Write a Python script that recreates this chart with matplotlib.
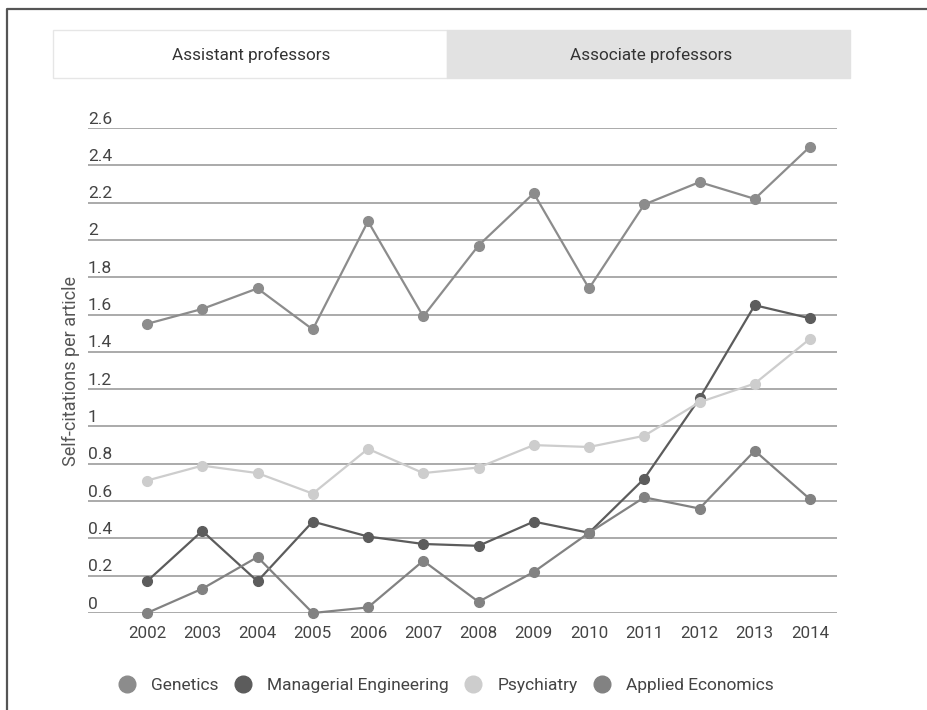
import matplotlib
matplotlib.use("Agg")
import matplotlib.pyplot as plt
from matplotlib.patches import Rectangle
from matplotlib.lines import Line2D
import matplotlib.transforms as mtransforms

years = [2002, 2003, 2004, 2005, 2006, 2007, 2008, 2009, 2010, 2011, 2012, 2013, 2014]
genetics = [1.55, 1.63, 1.74, 1.52, 2.10, 1.59, 1.97, 2.25, 1.74, 2.19, 2.31, 2.22, 2.50]
managerial = [0.17, 0.44, 0.17, 0.49, 0.41, 0.37, 0.36, 0.49, 0.43, 0.72, 1.15, 1.65, 1.58]
psychiatry = [0.71, 0.79, 0.75, 0.64, 0.88, 0.75, 0.78, 0.90, 0.89, 0.95, 1.13, 1.23, 1.47]
applied_econ = [0.0, 0.13, 0.30, 0.0, 0.03, 0.28, 0.06, 0.22, 0.43, 0.62, 0.56, 0.87, 0.61]
yticks = [0, 0.2, 0.4, 0.6, 0.8, 1, 1.2, 1.4, 1.6, 1.8, 2, 2.2, 2.4, 2.6]
ytick_labels = ["0", "0.2", "0.4", "0.6", "0.8", "1", "1.2", "1.4", "1.6", "1.8", "2", "2.2", "2.4", "2.6"]

series = [
    ("Genetics", genetics, "#8c8c8c"),
    ("Managerial Engineering", managerial, "#5c5c5c"),
    ("Psychiatry", psychiatry, "#cdcdcd"),
    ("Applied Economics", applied_econ, "#828282"),
]

W, H = 928, 710
plt.rcParams['font.family'] = ['Roboto', 'DejaVu Sans']
fig = plt.figure(figsize=(W / 100, H / 100), dpi=100)

# page frame (left and top edges only)
fig.add_artist(Line2D([7 / W, 7 / W, 1], [0, 1 - 9 / H, 1 - 9 / H],
                      transform=fig.transFigure, color="#555555", lw=1.6))

# tabs
fig.add_artist(Rectangle((53 / W, 1 - 78 / H), 394 / W, 48 / H, transform=fig.transFigure,
                         facecolor="white", edgecolor="#e6e6e6", lw=1.0))
fig.add_artist(Rectangle((447 / W, 1 - 78 / H), 403 / W, 48 / H, transform=fig.transFigure,
                         facecolor="#e2e2e2", edgecolor="#e2e2e2", lw=1.0))
fig.text(251 / W, 1 - 55 / H, "Assistant professors", ha="center", va="center",
         fontsize=12.3, color="#333333")
fig.text(651 / W, 1 - 55 / H, "Associate professors", ha="center", va="center",
         fontsize=12.3, color="#333333")

ax = fig.add_axes([88 / W, (H - 613) / H, (837 - 88) / W, (613 - 128) / H])
ax.set_xlim(2002 - 59 / 55.25, 2014 + 27 / 55.25)
ax.set_ylim(0, 2.6)
for s in ax.spines.values():
    s.set_visible(False)
ax.set_yticks([])
ax.set_xticks(years)
ax.set_xticklabels([str(y) for y in years], fontsize=12.2, color="#444444")
ax.tick_params(axis="x", length=0, pad=9)

for v in yticks:
    ax.axhline(v, color="#a4a4a4", lw=1.3, zorder=1)

trans = mtransforms.blended_transform_factory(ax.transAxes, ax.transData)
for v, lab in zip(yticks, ytick_labels):
    ax.text(0, v + 0.008, lab, transform=trans, ha="left", va="bottom", fontsize=12.5,
            color="#444444")

for name, vals, col in series:
    ax.plot(years, vals, color=col, lw=1.6, marker="o", markersize=7,
            label=name, clip_on=False, zorder=3)

fig.text(71 / W, 1 - 371 / H, "Self-citations per article", rotation=90,
         ha="center", va="center", fontsize=13, color="#555555")

handles = [Line2D([], [], marker="o", linestyle="none", markersize=12, color=col)
           for _, _, col in series]
fig.legend(handles, [s[0] for s in series], loc="center", ncol=4,
           bbox_to_anchor=(446 / W, 1 - 685 / H), frameon=False, fontsize=12.5,
           handlelength=1.0, handletextpad=0.9, columnspacing=0.9,
           labelcolor="#444444")

fig.savefig("out.png", dpi=100)
